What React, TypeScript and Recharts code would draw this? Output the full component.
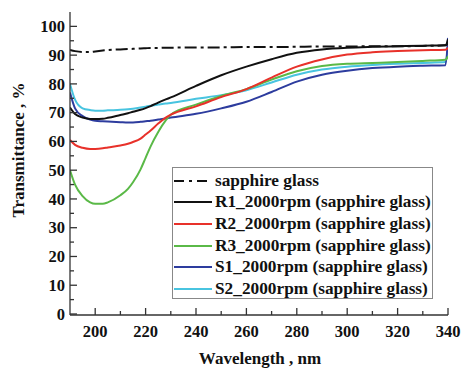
import React from "react";
import { LineChart, Line, XAxis, YAxis } from "recharts";

const wavelengths = [190, 192, 195, 198, 200, 203, 205, 210, 213, 215, 218, 220, 222, 225, 228, 230, 240, 250, 260, 270, 280, 290, 300, 310, 320, 330, 339, 340];
const sapphire = [91.8, 91.4, 91.1, 91.1, 91.3, 91.6, 91.8, 92.0, 92.1, 92.2, 92.3, 92.4, 92.5, 92.5, 92.6, 92.6, 92.7, 92.7, 92.8, 92.8, 92.9, 93.0, 93.0, 93.1, 93.1, 93.2, 93.4, 94.0];
const r1 = [71.8, 69.5, 68.3, 67.8, 67.8, 67.9, 68.2, 69.2, 69.8, 70.3, 71.0, 71.6, 72.3, 73.5, 74.6, 75.3, 79.3, 83.0, 86.0, 88.6, 90.8, 92.0, 92.6, 92.9, 93.1, 93.3, 93.4, 95.5];
const r2 = [60.5, 58.8, 57.8, 57.4, 57.4, 57.6, 57.9, 58.6, 59.2, 59.8, 61.0, 62.4, 63.8, 66.2, 68.3, 69.3, 72.2, 75.4, 78.2, 82.2, 86.0, 88.5, 90.2, 91.0, 91.4, 91.7, 91.9, 92.6];
const r3 = [50.0, 45.0, 41.0, 38.8, 38.3, 38.3, 38.8, 41.3, 43.5, 45.8, 50.3, 54.3, 58.3, 63.3, 67.3, 69.3, 72.8, 75.8, 78.2, 81.5, 84.4, 86.2, 87.0, 87.3, 87.6, 88.0, 88.4, 89.6];
const s1 = [77.0, 71.5, 68.8, 67.6, 67.2, 67.0, 66.9, 66.7, 66.6, 66.6, 66.8, 67.0, 67.2, 67.6, 68.0, 68.3, 69.6, 71.5, 73.8, 77.2, 80.8, 83.2, 84.6, 85.5, 86.0, 86.3, 86.5, 96.0];
const s2 = [80.0, 74.5, 71.5, 70.9, 70.7, 70.7, 70.8, 71.0, 71.2, 71.4, 71.8, 72.1, 72.4, 72.8, 73.2, 73.4, 74.8, 76.1, 77.8, 80.5, 83.2, 85.0, 86.0, 86.6, 87.0, 87.3, 87.6, 93.0];

const seriesNames = [
  "sapphire glass",
  "R1_2000rpm (sapphire glass)",
  "R2_2000rpm (sapphire glass)",
  "R3_2000rpm (sapphire glass)",
  "S1_2000rpm (sapphire glass)",
  "S2_2000rpm (sapphire glass)",
];
const seriesKeys = ["sapphire", "r1", "r2", "r3", "s1", "s2"];
const seriesColors = ["#111111", "#111111", "#e8312a", "#5ab947", "#2d3c9e", "#48c4e0"];
const seriesDash = ["12 4 3 4", undefined, undefined, undefined, undefined, undefined];

const xTicks = [200, 210, 220, 230, 240, 250, 260, 270, 280, 290, 300, 310, 320, 330, 340];
const yTicks = [0, 5, 10, 15, 20, 25, 30, 35, 40, 45, 50, 55, 60, 65, 70, 75, 80, 85, 90, 95, 100];

const valuesByKey: Record<string, number[]> = { sapphire, r1, r2, r3, s1, s2 };
const data = wavelengths.map((w, i) => {
  const row: Record<string, number> = { wl: w };
  seriesKeys.forEach((k) => (row[k] = valuesByKey[k][i]));
  return row;
});

const FONT = "'Liberation Serif', 'Times New Roman', serif";
const AX = "#333";

const YTick = (props: any) => {
  const { x, y, payload } = props;
  const major = payload.value % 10 === 0;
  return (
    <g>
      <line x1={x} x2={x + (major ? 7 : 4)} y1={y} y2={y} stroke={AX} strokeWidth={1.3} />
      {major && (
        <text x={x - 5} y={y} dy="0.35em" textAnchor="end" fontFamily={FONT} fontWeight="bold" fontSize={16.5} fill="#111">
          {payload.value}
        </text>
      )}
    </g>
  );
};

const XTick = (props: any) => {
  const { x, y, payload } = props;
  const major = payload.value % 20 === 0;
  return (
    <g>
      <line x1={x} x2={x} y1={y} y2={y - (major ? 7 : 4)} stroke={AX} strokeWidth={1.3} />
      {major && (
        <text x={x} y={y + 22} textAnchor="middle" fontFamily={FONT} fontWeight="bold" fontSize={16.5} fill="#111">
          {payload.value}
        </text>
      )}
    </g>
  );
};

const LegendBox = () => (
  <div
    style={{
      position: "absolute",
      left: 172,
      top: 167,
      width: 259,
      height: 128,
      border: "1px solid #888",
      background: "#fff",
      paddingTop: 2,
      boxSizing: "content-box",
    }}
  >
    {seriesNames.map((name, i) => (
      <div key={name} style={{ display: "flex", alignItems: "center", height: 21.6 }}>
        <svg width={38} height={10} style={{ marginLeft: 1, marginRight: 3 }}>
          <line x1={0} x2={38} y1={5} y2={5} stroke={seriesColors[i]} strokeWidth={2.2} strokeDasharray={seriesDash[i] ? "10 5 3 5" : undefined} />
        </svg>
        <span style={{ fontFamily: FONT, fontWeight: "bold", fontSize: 17.3, color: "#111", whiteSpace: "nowrap" }}>{name}</span>
      </div>
    ))}
  </div>
);

export default function App() {
  return (
    <div style={{ position: "absolute", left: 0, top: 0, width: 461, height: 368, background: "#fff" }}>
      <LineChart width={461} height={368} data={data} margin={{ top: 12, right: 13, left: 0, bottom: 0 }}>
        <XAxis
          dataKey="wl"
          type="number"
          domain={[190, 340]}
          ticks={xTicks}
          interval={0}
          tickSize={0}
          tickMargin={0}
          tickLine={false}
          tick={<XTick />}
          height={53}
          axisLine={{ stroke: AX, strokeWidth: 1.3 }}
          allowDataOverflow
        />
        <XAxis xAxisId="top" orientation="top" type="number" domain={[190, 340]} height={0} tick={false} tickLine={false} axisLine={{ stroke: AX, strokeWidth: 1.3 }} />
        <YAxis
          type="number"
          domain={[-0.35, 105]}
          ticks={yTicks}
          interval={0}
          tickSize={0}
          tickMargin={0}
          tickLine={false}
          tick={<YTick />}
          width={70}
          axisLine={{ stroke: AX, strokeWidth: 1.3 }}
          allowDataOverflow
        />
        <YAxis yAxisId="right" orientation="right" type="number" domain={[0, 105]} width={0} tick={false} tickLine={false} axisLine={{ stroke: AX, strokeWidth: 1.3 }} />
        {seriesKeys
          .map((k, i) => ({ k, i }))
          .reverse()
          .map(({ k, i }) => (
            <Line
              key={k}
              dataKey={k}
              type="monotone"
              stroke={seriesColors[i]}
              strokeWidth={2}
              strokeDasharray={seriesDash[i]}
              dot={false}
              activeDot={false}
              isAnimationActive={false}
            />
          ))}
        <text x={18} y={150} transform="rotate(-90 18 150)" textAnchor="middle" dominantBaseline="central" fontFamily={FONT} fontWeight="bold" fontSize={17} fill="#111">
          Transmittance , %
        </text>
        <text x={260} y={364} textAnchor="middle" fontFamily={FONT} fontWeight="bold" fontSize={17} fill="#111">
          Wavelength , nm
        </text>
      </LineChart>
      <LegendBox />
    </div>
  );
}
